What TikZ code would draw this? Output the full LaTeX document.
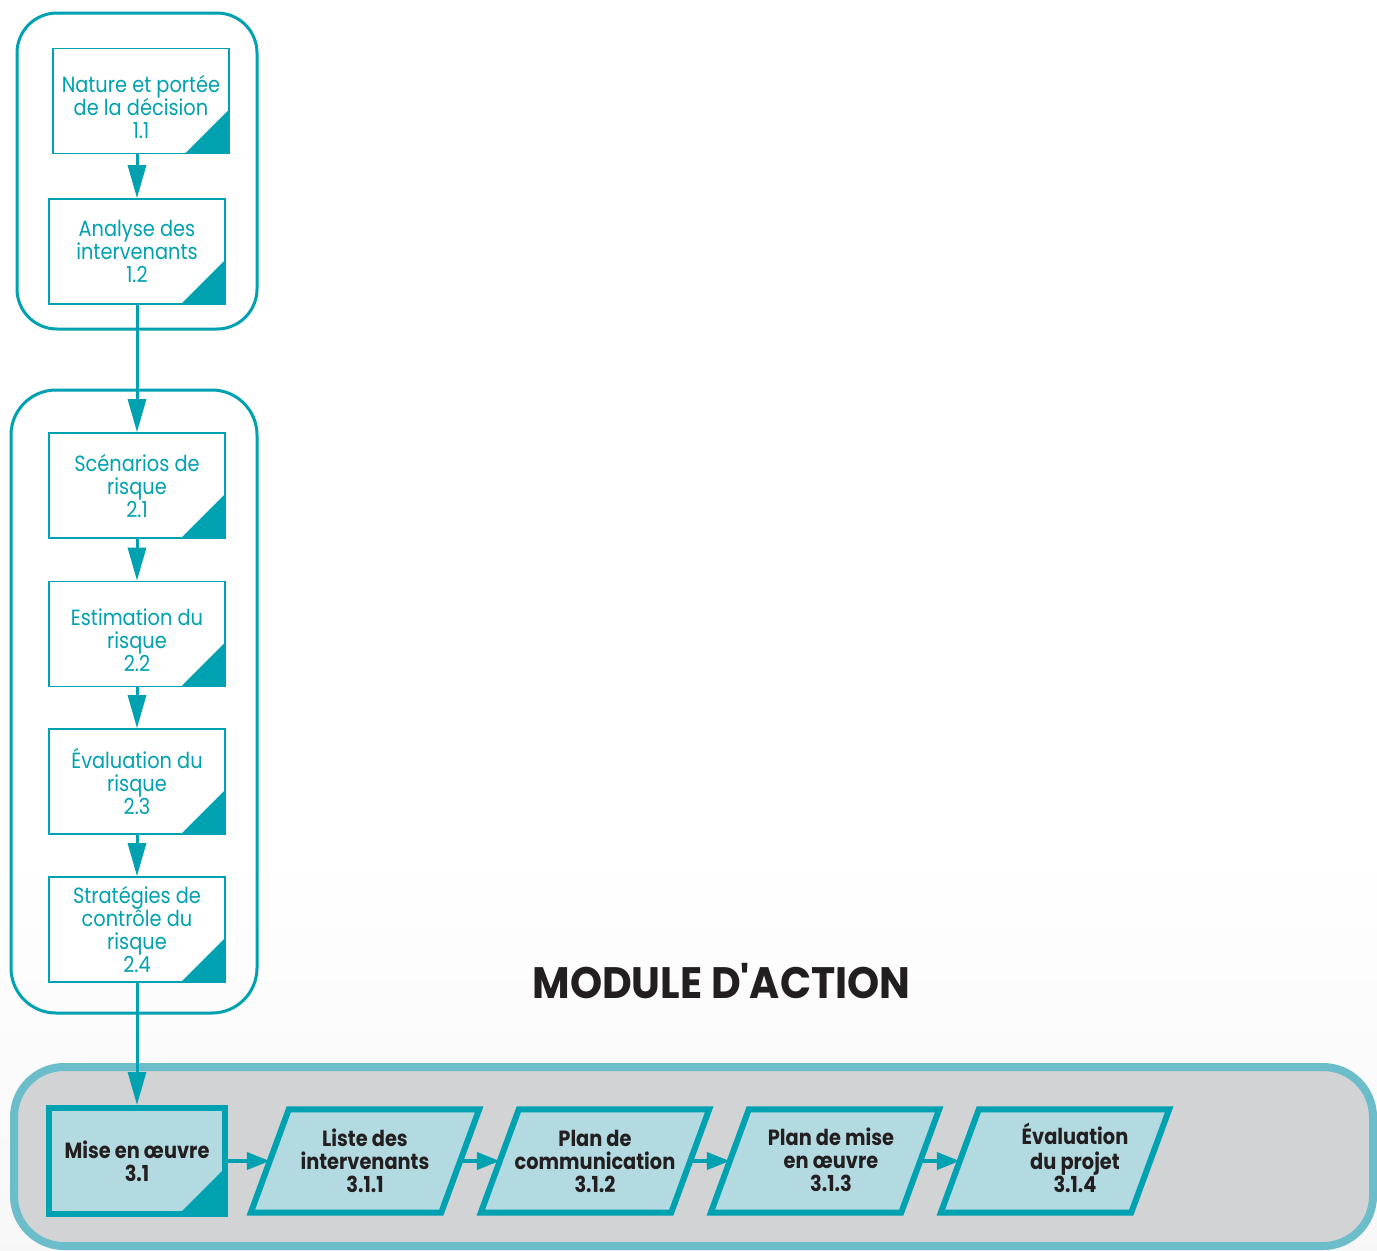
\documentclass[tikz,border=0pt]{standalone}
\usepackage{fontspec}
\setmainfont{Poppins}[FakeStretch=0.88]
\newfontfamily\titlefont{Poppins}[FakeStretch=0.93]
\usetikzlibrary{arrows.meta}
\definecolor{tealc}{RGB}{0,161,176}
\definecolor{lightfill}{RGB}{179,218,225}
\definecolor{bandfill}{RGB}{209,211,213}
\definecolor{bandedge}{RGB}{107,189,201}
\definecolor{ink}{RGB}{35,31,32}
\pgfdeclarelayer{back}
\pgfdeclarelayer{mid}
\pgfsetlayers{back,mid,main}
\newcommand{\lowerby}[1]{\rule{0pt}{#1}}
% centred lines pushed right by half of the given padding
\newcommand{\padleft}[2]{\hspace*{#1}\begin{tabular}{@{}c@{}}\lowerby{22pt}#2\end{tabular}}
\tikzset{
  group/.style={draw=tealc, line width=3pt},
  proc/.style={draw=tealc, line width=1.6pt, fill=white, rectangle,
    minimum width=176pt, minimum height=105pt, inner sep=0pt,
    align=center, text=tealc, font=\fontsize{22}{23}\selectfont,
    path picture={\fill[tealc]
      ([xshift=-44pt]path picture bounding box.south east) --
      (path picture bounding box.south east) --
      ([yshift=44pt]path picture bounding box.south east) -- cycle;}},
  actbox/.style={draw=tealc, line width=6pt, fill=lightfill, rectangle,
    minimum width=176pt, minimum height=106pt, inner sep=0pt,
    align=center, text=ink, font=\bfseries\fontsize{22}{23}\selectfont,
    path picture={\fill[tealc]
      ([xshift=-46pt]path picture bounding box.south east) --
      (path picture bounding box.south east) --
      ([yshift=46pt]path picture bounding box.south east) -- cycle;}},
  paratext/.style={rectangle, minimum width=190pt, minimum height=103pt,
    inner sep=0pt, align=center, text=ink,
    font=\bfseries\fontsize{22}{23}\selectfont},
  parashape/.style={draw=tealc, line width=6pt, fill=lightfill, line join=miter},
  varr/.style={draw=tealc, line width=3pt,
    -{Triangle[width=18pt,length=33pt]}},
  harr/.style={draw=tealc, line width=4pt,
    -{Triangle[width=17pt,length=23pt]}},
}
\newcommand{\parallelo}[1]{%
  \begin{pgfonlayer}{mid}
  \path[parashape] ([xshift=19pt]#1.north west) -- ([xshift=19pt]#1.north east)
    -- ([xshift=-19pt]#1.south east) -- ([xshift=-19pt]#1.south west) -- cycle;
  \end{pgfonlayer}}
\begin{document}
\begin{tikzpicture}[x=1pt,y=-1pt]
\useasboundingbox (0,0) rectangle (1377,1251);

\begin{pgfonlayer}{back}
\fill[white] (0,0) rectangle (1377,1251);
% faint grey haze behind the action band
\shade[top color=white, bottom color=black!3] (0,850) rectangle (1377,1251);
% action module band
\draw[fill=bandfill, draw=bandedge, line width=8pt, rounded corners=50pt]
  (14,1067) rectangle (1373,1246);
\end{pgfonlayer}

% decision and risk groups
\draw[group, rounded corners=40pt] (17,13) rectangle (257,329);
\draw[group, rounded corners=45pt] (11,390) rectangle (257,1013);

% process boxes
\node[proc] (b11) at (141,101) {\lowerby{30pt}Nature et portée\\de la décision\\1.1};
\node[proc] (b12) at (137,251.5) {Analyse des\\intervenants\\1.2};
\node[proc] (b21) at (137,485.5) {Scénarios de\\risque\\2.1};
\node[proc] (b22) at (137,634) {\lowerby{30pt}Estimation du\\risque\\2.2};
\node[proc] (b23) at (137,781.5) {Évaluation du\\risque\\2.3};
\node[proc] (b24) at (137,929.5) {Stratégies de\\contrôle du\\risque\\2.4};

\draw[varr] (b11.south -| b12.north) -- (b12.north);
\draw[varr] (b12.south) -- (b21.north);
\draw[varr] (b21.south) -- (b22.north);
\draw[varr] (b22.south) -- (b23.north);
\draw[varr] (b23.south) -- (b24.north);

% title
\node[text=ink, font=\titlefont\bfseries\fontsize{44}{48}\selectfont]
  (title) at (721.5,981) {MODULE D'ACTION};

% action module
\node[actbox] (m31) at (137,1161) {Mise en œuvre\\3.1};
\node[paratext] (p1) at (365,1161) {Liste des\\intervenants\\3.1.1};
\node[paratext] (p2) at (595,1161) {Plan de\\communication\\3.1.2};
\node[paratext] (p3) at (825,1161) {\padleft{12pt}{Plan de mise\\en œuvre\\3.1.3}};
\node[paratext] (p4) at (1055,1161) {\padleft{40pt}{Évaluation\\du projet\\3.1.4}};
\parallelo{p1}
\parallelo{p2}
\parallelo{p3}
\parallelo{p4}

\draw[varr] (b24.south) -- (m31.north);
\draw[harr] (m31.east) -- (p1.west);
\draw[harr] (p1.east) -- (p2.west);
\draw[harr] (p2.east) -- (p3.west);
\draw[harr] (p3.east) -- (p4.west);
\end{tikzpicture}
\end{document}
